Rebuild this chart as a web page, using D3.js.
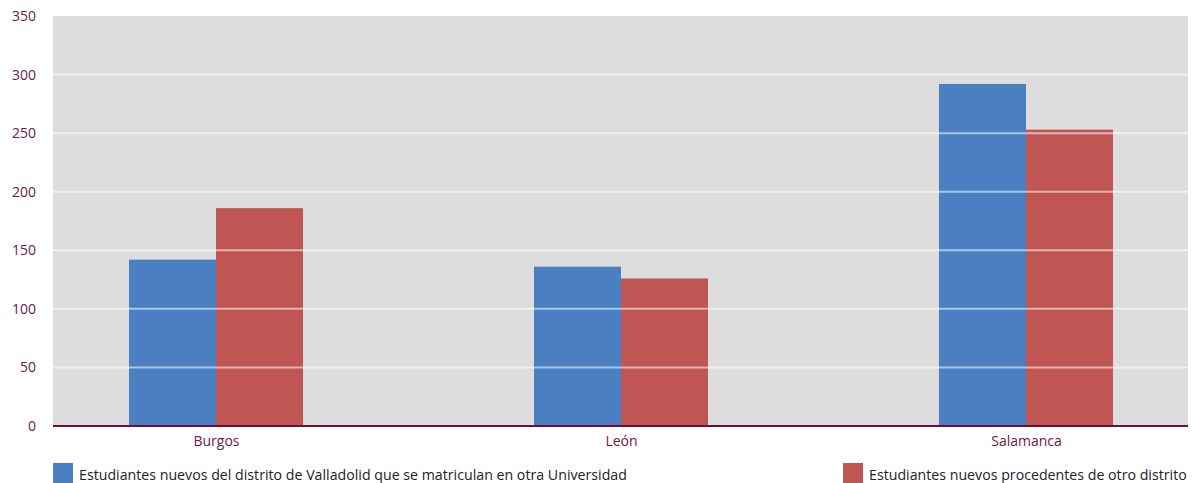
<!DOCTYPE html>
<html><head><meta charset="utf-8">
<script src="https://cdn.jsdelivr.net/npm/d3@7"></script>
<style>body{margin:0;background:#fff}svg{display:block}</style>
</head><body>
<svg id="c" width="1195" height="483"></svg>
<script>
const categories = ["Burgos", "León", "Salamanca"];
const seriesNames = [
  "Estudiantes nuevos del distrito de Valladolid que se matriculan en otra Universidad",
  "Estudiantes nuevos procedentes de otro distrito"
];
const valladolidOut = [142, 136, 292];
const otherDistrict = [186, 126, 253];
const yTicks = [0, 50, 100, 150, 200, 250, 300, 350];
const colors = ["#4a7fc1", "#bf5654"];

const svg = d3.select("#c");
const font = "'Open Sans', 'Noto Sans', sans-serif";
const tickColor = "#6e1748";
const L = 53, R = 1188, T = 16, B = 426;

const y = d3.scaleLinear().domain([0, 350]).range([B, T]);
const x = d3.scalePoint().domain(categories).range([216, 1026]);
const barW = 87;

svg.append("rect").attr("x", L).attr("y", T).attr("width", R - L).attr("height", B - T).attr("fill", "#dddddd");

const series = [valladolidOut, otherDistrict];
series.forEach((vals, si) => {
  svg.append("g").selectAll("rect").data(categories).join("rect")
    .attr("x", d => si === 0 ? x(d) - barW : x(d))
    .attr("y", (d, i) => y(vals[i]))
    .attr("width", barW)
    .attr("height", (d, i) => y(0) - y(vals[i]))
    .attr("fill", colors[si]);
});

// gridlines over bars
svg.append("g").selectAll("line").data(yTicks.filter(t => t > 0 && t < 350)).join("line")
  .attr("x1", L).attr("x2", R)
  .attr("y1", d => y(d)).attr("y2", d => y(d))
  .attr("stroke", "#fff").attr("stroke-opacity", 0.55).attr("stroke-width", 2);

// y axis labels
const yAxis = d3.axisLeft(y).tickValues(yTicks).tickSize(0).tickPadding(0);
const gy = svg.append("g").attr("transform", `translate(36,0)`).call(yAxis);
gy.select(".domain").remove();
gy.selectAll("text").attr("fill", tickColor).style("font-family", font).style("font-size", "14px");

// x axis
const xAxis = d3.axisBottom(x).tickSize(0).tickPadding(0);
const gx = svg.append("g").attr("transform", `translate(0,${B})`).call(xAxis);
gx.select(".domain").remove();
gx.selectAll("text").attr("fill", tickColor).attr("dy", "0").attr("y", 20).style("font-family", font).style("font-size", "14px");

svg.append("line").attr("x1", L).attr("x2", R).attr("y1", B).attr("y2", B)
  .attr("stroke", "#6b0d3e").attr("stroke-width", 2);

// legend
const legendPos = [{sx: 53, tx: 79, tw: 548}, {sx: 843, tx: 869, tw: 318}];
seriesNames.forEach((name, i) => {
  const p = legendPos[i];
  svg.append("rect").attr("x", p.sx).attr("y", 463).attr("width", 20).attr("height", 20).attr("fill", colors[i]);
  const t = svg.append("text").attr("x", p.tx).attr("y", 480).attr("fill", "#222")
    .style("font-family", font).style("font-size", "14px").text(name);
  const w = t.node().getComputedTextLength();
  t.style("font-size", (14 * p.tw / w).toFixed(2) + "px");
});
</script>
</body></html>
